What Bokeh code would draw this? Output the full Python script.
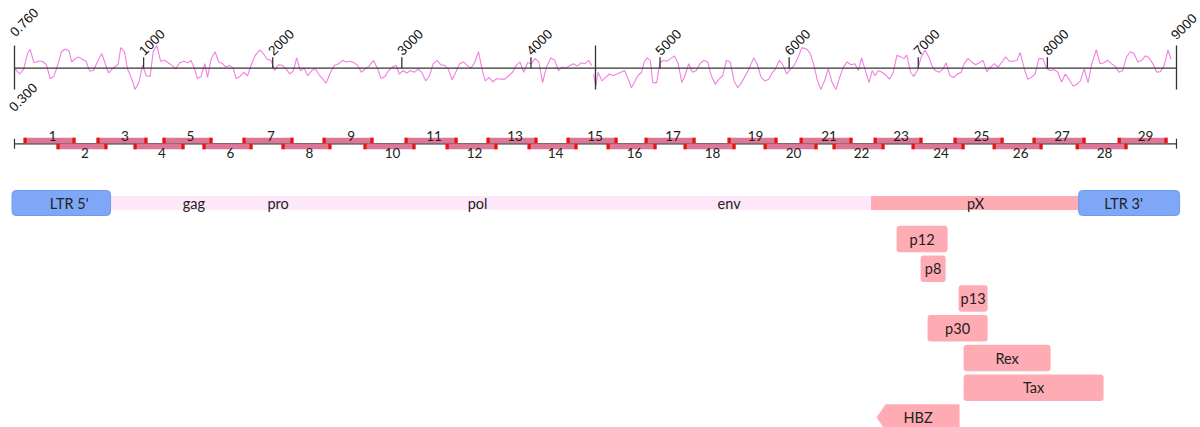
import math
from bokeh.plotting import figure
from bokeh.models import Range1d
from bokeh.core.properties import value
from bokeh.embed import file_html
from bokeh.resources import INLINE

# ---------------- data ----------------
genome_len = 9000
split_pos = 4500
tick_pos = [1000, 2000, 3000, 4000, 5000, 6000, 7000, 8000]
gc_min, gc_max = 0.300, 0.760
gc_mean = 0.523

gc5_pos = [4, 42, 71, 101, 121, 150, 188, 217, 247, 276,
           305, 334, 364, 393, 422, 443, 466, 495, 524, 554,
           583, 612, 641, 676, 700, 729, 752, 782, 802, 823,
           852, 875, 904, 934, 963, 992, 1021, 1051, 1074, 1103,
           1132, 1162, 1191, 1220, 1249, 1279, 1314, 1343, 1366, 1395,
           1416, 1445, 1474, 1495, 1524, 1553, 1582, 1612, 1635, 1664,
           1694, 1717, 1746, 1775, 1805, 1834, 1863, 1898, 1927, 1957,
           1986, 2015, 2044, 2074, 2103, 2132, 2161, 2185, 2214, 2243,
           2272, 2302, 2331, 2360, 2389, 2413, 2448, 2477, 2512, 2541,
           2570, 2600, 2629, 2658, 2687, 2717, 2746, 2781, 2810, 2839,
           2869, 2898, 2927, 2956, 2980, 3009, 3038, 3067, 3097, 3126,
           3155, 3184, 3214, 3243, 3272, 3301, 3330, 3360, 3389, 3418,
           3447, 3477, 3506, 3535, 3564, 3594, 3623, 3646, 3676, 3705,
           3734, 3763, 3798, 3827, 3857, 3886, 3915, 3944, 3974, 4003,
           4032, 4061, 4090, 4120, 4155, 4184, 4213, 4242, 4272, 4301,
           4330, 4359, 4389, 4418, 4447, 4470]
gc5_val = [.516, .462, .516, .677, .720, .580, .595, .595, .559, .415,
           .437, .552, .695, .724, .703, .588, .616, .641, .616, .595,
           .490, .498, .588, .677, .580, .473, .508, .544, .559, .738,
           .695, .516, .426, .300, .372, .552, .444, .437, .695, .760,
           .595, .605, .580, .552, .516, .580, .595, .580, .605, .516,
           .415, .437, .570, .426, .623, .695, .588, .570, .534, .552,
           .523, .415, .437, .480, .444, .559, .652, .713, .677, .616,
           .605, .498, .559, .552, .516, .462, .498, .631, .498, .523,
           .444, .498, .516, .451, .408, .365, .480, .552, .570, .605,
           .588, .595, .580, .552, .480, .516, .544, .605, .523, .415,
           .437, .498, .534, .552, .462, .498, .473, .498, .480, .516,
           .480, .390, .444, .570, .605, .559, .552, .516, .401, .480,
           .570, .588, .552, .523, .580, .695, .498, .390, .426, .379,
           .415, .408, .408, .444, .480, .552, .588, .480, .580, .570,
           .623, .588, .372, .534, .631, .605, .498, .534, .523, .552,
           .570, .544, .580, .570, .605, .552]

gc3_pos = [4485, 4503, 4520, 4550, 4579, 4608, 4637, 4667, 4696, 4725,
           4754, 4778, 4807, 4827, 4857, 4877, 4900, 4924, 4944, 4974,
           4997, 5023, 5052, 5082, 5111, 5140, 5169, 5193, 5222, 5251,
           5280, 5310, 5339, 5368, 5397, 5427, 5456, 5485, 5514, 5543,
           5573, 5602, 5631, 5660, 5690, 5725, 5754, 5783, 5812, 5842,
           5871, 5894, 5924, 5953, 5982, 6011, 6040, 6070, 6099, 6134,
           6163, 6192, 6216, 6245, 6274, 6303, 6333, 6362, 6391, 6420,
           6450, 6479, 6508, 6537, 6561, 6590, 6619, 6643, 6666, 6689,
           6719, 6748, 6777, 6806, 6835, 6865, 6888, 6911, 6941, 6964,
           6993, 7023, 7052, 7081, 7110, 7134, 7163, 7192, 7215, 7245,
           7274, 7303, 7332, 7356, 7385, 7414, 7444, 7473, 7502, 7531,
           7560, 7590, 7619, 7648, 7677, 7707, 7736, 7765, 7788, 7818,
           7847, 7876, 7905, 7934, 7964, 7993, 8022, 8051, 8081, 8110,
           8139, 8168, 8198, 8227, 8256, 8285, 8315, 8344, 8379, 8408,
           8437, 8467, 8496, 8525, 8554, 8583, 8613, 8642, 8671, 8700,
           8730, 8759, 8788, 8817, 8847, 8876, 8905, 8934, 8958]
gc3_val = [.462, .336, .480, .390, .426, .462, .444, .462, .480, .498,
           .408, .318, .390, .444, .480, .588, .631, .605, .372, .372,
           .570, .605, .595, .623, .652, .570, .372, .444, .570, .480,
           .498, .570, .605, .588, .444, .354, .408, .444, .605, .588,
           .390, .318, .372, .444, .516, .631, .559, .426, .390, .408,
           .480, .516, .605, .552, .462, .516, .552, .641, .738, .724,
           .677, .552, .408, .300, .390, .516, .372, .300, .426, .534,
           .588, .559, .570, .498, .631, .498, .372, .498, .444, .498,
           .480, .451, .408, .480, .659, .641, .623, .659, .480, .437,
           .498, .641, .713, .641, .534, .498, .480, .516, .580, .444,
           .426, .462, .480, .570, .623, .588, .559, .580, .605, .487,
           .534, .570, .534, .588, .641, .595, .595, .605, .688, .534,
           .408, .426, .462, .623, .623, .523, .498, .508, .480, .379,
           .462, .408, .336, .354, .390, .516, .372, .570, .713, .570,
           .580, .605, .570, .544, .480, .498, .641, .695, .677, .588,
           .605, .652, .631, .570, .480, .487, .552, .713, .616]

amp_label = [str(i) for i in range(1, 30)]
amp_start = [70, 325, 635, 922, 1146, 1456, 1766, 2068, 2386, 2703,
             3021, 3339, 3656, 3974, 4276, 4586, 4880, 5182, 5523, 5802,
             6081, 6336, 6654, 6948, 7273, 7576, 7885, 8219, 8544]
amp_end = [473, 720, 1030, 1317, 1534, 1844, 2161, 2455, 2781, 3106,
           3432, 3741, 4051, 4361, 4671, 4973, 5275, 5585, 5910, 6220,
           6491, 6739, 7033, 7359, 7661, 7963, 8296, 8621, 8931]

ltr_name = ["LTR 5'", "LTR 3'"]
ltr_start = [-19, 8242]
ltr_end = [744, 9024]
ltr_label_x = [424, 8590]

region_start = [744, 6634]
region_end = [6634, 8242]
region_color = ["#fde8fa", "#ffabb4"]

gene_label = ["gag", "pro", "pol", "env", "pX"]
gene_label_x = [1390, 2042, 3587, 5535, 7444]

orf_name = ["p12", "p8", "p13", "p30", "Rex", "Tax", "HBZ"]
orf_start = [6832, 7018, 7312, 7072, 7351, 7351, 6677]
orf_end = [7227, 7212, 7537, 7537, 8025, 8435, 7320]
orf_strand = ["+", "+", "+", "+", "+", "+", "-"]

# ---------------- layout ----------------
W, H = 1200, 427
PX_PER_BP = 1162 / 9000
X0 = -14 / PX_PER_BP
X1 = X0 + W / PX_PER_BP

GC_TOP_PX, GC_BOT_PX = 45, 89
gc_scale = (GC_BOT_PX - GC_TOP_PX) / (gc_max - gc_min)
gc_lo = gc_min - (H - GC_BOT_PX) / gc_scale
gc_hi = gc_max + GC_TOP_PX / gc_scale
TICK_LEN = 11 / gc_scale

AXIS_COLOR = "#333333"
GC_COLOR = "#f27ee2"
AMP_FILL = "#dc7090"
AMP_CAP = "#ee1111"
LTR_COLOR = "#7fa7f7"
ORF_COLOR = "#ffabb4"
LABEL_FONT = value("Lato")

p = figure(width=W, height=H, x_range=Range1d(X0, X1), y_range=Range1d(H, 0),
           output_backend="svg", toolbar_location=None, min_border=0,
           x_axis_location=None, y_axis_location=None)
p.outline_line_color = None
p.grid.visible = False
p.extra_y_ranges = {"gc": Range1d(gc_lo, gc_hi)}

# ---- GC content track ----
p.line(gc5_pos, gc5_val, y_range_name="gc", line_color=GC_COLOR, line_width=1.1)
p.line(gc3_pos, gc3_val, y_range_name="gc", line_color=GC_COLOR, line_width=1.1)
p.segment(x0=[0], y0=[gc_mean], x1=[genome_len], y1=[gc_mean], y_range_name="gc",
          line_color=AXIS_COLOR, line_width=1.3)
vx = [0, split_pos, genome_len]
p.segment(x0=vx, y0=[gc_min] * 3, x1=vx, y1=[gc_max] * 3, y_range_name="gc",
          line_color=AXIS_COLOR, line_width=1.3)
p.segment(x0=tick_pos, y0=[gc_mean] * len(tick_pos), x1=tick_pos,
          y1=[gc_mean + TICK_LEN] * len(tick_pos), y_range_name="gc",
          line_color=AXIS_COLOR, line_width=1.3)
tick_font = dict(text_font=value("Liberation Sans"), text_font_size="13.5px",
                 text_color="#111111", angle=math.pi / 4, text_align="left",
                 text_baseline="bottom", y_range_name="gc")
p.text(x=tick_pos, y=[gc_mean + TICK_LEN] * len(tick_pos),
       text=[str(t) for t in tick_pos], y_offset=-1, x_offset=1, **tick_font)
p.text(x=[0], y=[gc_max], text=["%.3f" % gc_max], y_offset=-8, x_offset=1, **tick_font)
p.text(x=[genome_len], y=[gc_max], text=[str(genome_len)], y_offset=-5, x_offset=0, **tick_font)
p.text(x=[0], y=[gc_min], text=["%.3f" % gc_min], y_offset=23, x_offset=0, **tick_font)

# ---- amplicon track ----
SEG_Y = 143.3
BAR_H = 5.4
CAP_BP = 3.2 / PX_PER_BP
p.segment(x0=[0], y0=[SEG_Y], x1=[genome_len], y1=[SEG_Y], line_color=AXIS_COLOR, line_width=1.2)
p.segment(x0=[0, genome_len], y0=[SEG_Y - 5] * 2, x1=[0, genome_len], y1=[SEG_Y + 5] * 2,
          line_color=AXIS_COLOR, line_width=1.2)
n_amp = len(amp_label)
amp_top = [SEG_Y - BAR_H - 0.6 if i % 2 == 0 else SEG_Y for i in range(n_amp)]
amp_bot = [t + BAR_H for t in amp_top]
p.quad(left=amp_start, right=amp_end, top=amp_top, bottom=amp_bot,
       fill_color=AMP_FILL, fill_alpha=0.95, line_color=None)
p.quad(left=amp_start, right=[s + CAP_BP for s in amp_start], top=amp_top, bottom=amp_bot,
       fill_color=AMP_CAP, line_color=None)
p.quad(left=[e - CAP_BP for e in amp_end], right=amp_end, top=amp_top, bottom=amp_bot,
       fill_color=AMP_CAP, line_color=None)
amp_mid = [(s + e) / 2 for s, e in zip(amp_start, amp_end)]
amp_text_y = [SEG_Y - 8 if i % 2 == 0 else SEG_Y + 9 for i in range(n_amp)]
p.text(x=amp_mid, y=amp_text_y, text=amp_label, x_offset=3, text_align="center",
       text_baseline="middle", text_font=LABEL_FONT, text_font_size="13.5px",
       text_color="#222222")

# ---- genome organisation track ----
BAR_Y = 202.5
p.quad(left=region_start, right=region_end, top=[BAR_Y - 7] * 2, bottom=[BAR_Y + 7] * 2,
       fill_color=region_color, line_color=None)
p.quad(left=ltr_start, right=ltr_end, top=[BAR_Y - 12.5] * 2, bottom=[BAR_Y + 12.5] * 2,
       fill_color=LTR_COLOR, line_color="#6f98f0", line_width=1, border_radius=4)
gene_font = dict(text_font=LABEL_FONT, text_font_size="14.5px", text_color="#222222",
                 text_align="center", text_baseline="middle")
p.text(x=ltr_label_x, y=[BAR_Y] * 2, text=ltr_name, **gene_font)
p.text(x=gene_label_x, y=[BAR_Y] * len(gene_label), text=gene_label, **gene_font)

# ---- ORFs ----
ROW0 = 238.5
ROW_STEP = 29.75
ORF_H = 26.5
HEAD_BP = 9 / PX_PER_BP
orf_y = [ROW0 + i * ROW_STEP for i in range(len(orf_name))]
fw = [i for i, s in enumerate(orf_strand) if s == "+"]
rv = [i for i, s in enumerate(orf_strand) if s == "-"]
p.quad(left=[orf_start[i] for i in fw], right=[orf_end[i] for i in fw],
       top=[orf_y[i] - ORF_H / 2 for i in fw], bottom=[orf_y[i] + ORF_H / 2 for i in fw],
       fill_color=ORF_COLOR, line_color=None, border_radius=3)
xs, ys = [], []
for i in rv:
    s, e, c = orf_start[i], orf_end[i], orf_y[i]
    xs.append([s, s + HEAD_BP, e, e, s + HEAD_BP])
    ys.append([c, c - ORF_H / 2, c - ORF_H / 2, c + ORF_H / 2, c + ORF_H / 2])
p.patches(xs, ys, fill_color=ORF_COLOR, line_color=None)
p.text(x=[(s + e) / 2 for s, e in zip(orf_start, orf_end)], y=orf_y, text=orf_name, **gene_font)

open("out.html", "w").write(file_html(p, INLINE))
